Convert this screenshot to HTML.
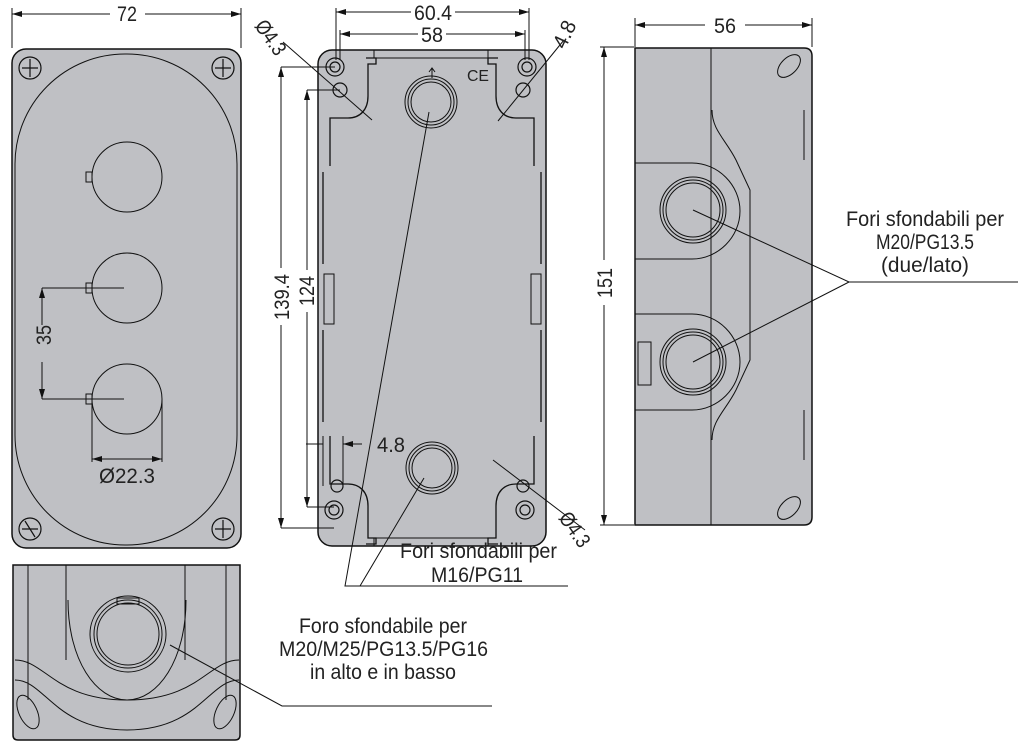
<!DOCTYPE html>
<html><head><meta charset="utf-8"><style>
html,body{margin:0;padding:0;background:#fff;}
svg{display:block;}
text{font-family:"Liberation Sans Narrow","Liberation Sans",sans-serif;fill:#222;}
</style></head><body>
<svg width="1020" height="752" viewBox="0 0 1020 752" xmlns="http://www.w3.org/2000/svg">
<defs>
<marker id="a" viewBox="0 0 10 6" refX="10" refY="3" markerWidth="10" markerHeight="6" orient="auto-start-reverse" markerUnits="userSpaceOnUse"><path d="M0,0 L10,3 L0,6 z" fill="#111"/></marker>
</defs>
<g stroke="#111" stroke-width="1" fill="none">

<!-- FRONT VIEW -->
<rect x="12" y="49" width="229" height="499" rx="14" fill="#bfc0c4" stroke-width="1.5"/>
<rect x="15" y="54" width="222" height="491" rx="110" ry="110"/>
<circle cx="127" cy="177" r="35"/>
<circle cx="127" cy="288" r="35"/>
<circle cx="127" cy="399" r="35"/>
<rect x="86" y="172" width="6" height="10"/>
<rect x="86" y="283" width="6" height="10"/>
<rect x="86" y="394" width="6" height="10"/>
<g stroke-width="1.2">
<circle cx="30" cy="68" r="11"/><path d="M30 59v18M22 68h16"/>
<circle cx="223" cy="68" r="11"/><path d="M223 59v18M215 68h16"/>
<circle cx="30" cy="529" r="11"/><path d="M25 521l10 16M22 529h16"/>
<circle cx="223" cy="529" r="11"/><path d="M223 520v18M215 529h16"/>
</g>
<path d="M12 8V48M241 8V48"/>
<path d="M12 14H110M145 14H241" marker-start="url(#a)" marker-end="url(#a)"/>
<path d="M42 288H124M42 399H124"/>
<path d="M42 288V325M42 362V399" marker-start="url(#a)" marker-end="url(#a)"/>
<path d="M92 399V462M162 399V462"/>
<path d="M92 459H162" marker-start="url(#a)" marker-end="url(#a)"/>

<!-- BACK VIEW -->
<rect x="318" y="50" width="228" height="496" rx="14" fill="#bfc0c4" stroke-width="1.5"/>
<path d="M374 50v8h114v-8"/>
<path d="M374 546v-8h114v8"/>
<g stroke-width="1.3">
<path d="M330 166V118h18c12 0 20-8 20-22V64h8v-6h-10"/>
<path d="M534 166V118h-18c-12 0-20-8-20-22V64h-8v-6h10"/>
<path d="M330 436v48h18c12 0 20 8 20 22v32h8v6h-10"/>
<path d="M534 436v48h-18c-12 0-20 8-20 22v32h-8v6h10"/>
<path d="M323 172v92M323 330v92M541 172v92M541 330v92"/>
</g>
<rect x="324" y="274" width="10" height="50"/>
<rect x="531" y="274" width="10" height="50"/>
<g stroke-width="1.2">
<circle cx="335" cy="67" r="9"/><circle cx="335" cy="67" r="5"/>
<circle cx="527" cy="67" r="9"/><circle cx="527" cy="67" r="5"/>
<circle cx="334" cy="510" r="9"/><circle cx="334" cy="510" r="5"/>
<circle cx="525" cy="510" r="9"/><circle cx="525" cy="510" r="5"/>
<circle cx="340" cy="90" r="7"/><circle cx="523" cy="90" r="7"/>
<circle cx="337" cy="486" r="6"/><circle cx="523" cy="486" r="6"/>
</g>
<circle cx="431" cy="102" r="26"/><circle cx="431" cy="102" r="23"/><circle cx="431" cy="102" r="20"/>
<circle cx="432" cy="468" r="26"/><circle cx="432" cy="468" r="23"/><circle cx="432" cy="468" r="20"/>
<path d="M432 78V68M429 72l3-4 3 4"/>
<path d="M336 8V60M529 8V60M340 30V60M525 30V60"/>
<path d="M336 12H411M455 12H529" marker-start="url(#a)" marker-end="url(#a)"/>
<path d="M340 34H418M446 34H525" marker-start="url(#a)" marker-end="url(#a)"/>
<path d="M281 67H335M281 528H334M307 90H340M307 507H334"/>
<path d="M281 67V268M281 325V528" marker-start="url(#a)" marker-end="url(#a)"/>
<path d="M307 90V270M307 312V507" marker-start="url(#a)" marker-end="url(#a)"/>
<path d="M283 42L372 120"/>
<path d="M564 40L498 121"/>
<path d="M493 460L585 530"/>
<path d="M323 436V486M343 436V486"/>
<path d="M306 444H323M362 444H343" marker-end="url(#a)"/>
<path d="M429 112L345 586L568 586M360 586L424 478"/>

<!-- SIDE VIEW -->
<path d="M635 48H804q8 0 8 8V517q0 8-8 8H635z" fill="#bfc0c4" stroke-width="1.5"/>
<path d="M711 48V525"/>
<path d="M712 110c0 20 14 30 24 50l14 30V360l-14 30c-10 20-24 30-24 50"/>
<path d="M635 163H692c26 0 48 22 48 48s-22 48-48 48H635"/>
<path d="M635 314H692c26 0 48 22 48 48s-22 48-48 48H635"/>
<circle cx="693" cy="210" r="33"/><circle cx="693" cy="210" r="30"/><circle cx="693" cy="210" r="27"/>
<circle cx="693" cy="362" r="33"/><circle cx="693" cy="362" r="30"/><circle cx="693" cy="362" r="27"/>
<rect x="638" y="342" width="13" height="43"/>
<ellipse cx="789" cy="66" rx="8" ry="14" transform="rotate(45 789 66)"/>
<ellipse cx="789" cy="508" rx="8" ry="14" transform="rotate(45 789 508)"/>
<path d="M804 110v50M804 410v50"/>
<path d="M635 18V47M812 18V47"/>
<path d="M635 25H705M745 25H812" marker-start="url(#a)" marker-end="url(#a)"/>
<path d="M600 47H634M600 525H634"/>
<path d="M604 47V260M604 305V525" marker-start="url(#a)" marker-end="url(#a)"/>
<path d="M693 210L849 282L1018 282M849 282L693 362"/>

<!-- BOTTOM VIEW -->
<path d="M13 565H240V735q0 5-5 5H18q-5 0-5-5z" fill="#bfc0c4" stroke-width="1.5"/>
<path d="M66 565V660M185 565V660"/>
<path d="M28 565V700M226 565V700"/>
<path d="M68 600c0 60 28 100 59 100s59-40 59-100"/>
<path d="M15 660c30 0 40 40 112 40s82-40 112-40"/>
<path d="M15 680c30 0 40 50 112 50s82-50 112-50"/>
<ellipse cx="28" cy="712" rx="9" ry="18" transform="rotate(-25 28 712)"/>
<ellipse cx="225" cy="712" rx="9" ry="18" transform="rotate(25 225 712)"/>
<circle cx="128" cy="634" r="38"/><circle cx="128" cy="634" r="34"/><circle cx="128" cy="634" r="31"/>
<rect x="117" y="598" width="22" height="6"/>
<path d="M170 645L282 706H492"/>
</g>

<!-- TEXT -->
<g font-size="21" lengthAdjust="spacingAndGlyphs">
<text x="117" y="21" textLength="20" lengthAdjust="spacingAndGlyphs">72</text>
<text x="414" y="20" textLength="38" lengthAdjust="spacingAndGlyphs">60.4</text>
<text x="421" y="42" textLength="22" lengthAdjust="spacingAndGlyphs">58</text>
<text x="714" y="33" textLength="22" lengthAdjust="spacingAndGlyphs">56</text>
<text transform="translate(51 335) rotate(-90)" x="-10" textLength="20" lengthAdjust="spacingAndGlyphs">35</text>
<text x="99" y="483" textLength="56" lengthAdjust="spacingAndGlyphs">Ø22.3</text>
<text transform="translate(289 297) rotate(-90)" x="-23" textLength="46" lengthAdjust="spacingAndGlyphs">139.4</text>
<text transform="translate(314 291) rotate(-90)" x="-15" textLength="30" lengthAdjust="spacingAndGlyphs">124</text>
<text transform="translate(612 283) rotate(-90)" x="-15" textLength="30" lengthAdjust="spacingAndGlyphs">151</text>
<text transform="translate(254 26) rotate(55)" textLength="38" lengthAdjust="spacingAndGlyphs">Ø4.3</text>
<text transform="translate(565 50) rotate(-65)" textLength="28" lengthAdjust="spacingAndGlyphs">4.8</text>
<text transform="translate(558 518) rotate(55)" textLength="38" lengthAdjust="spacingAndGlyphs">Ø4.3</text>
<text x="377" y="452" textLength="28" lengthAdjust="spacingAndGlyphs">4.8</text>
<text x="400" y="558" textLength="157" lengthAdjust="spacingAndGlyphs">Fori sfondabili per</text>
<text x="431" y="582" textLength="92" lengthAdjust="spacingAndGlyphs">M16/PG11</text>
<text x="846" y="226" textLength="158" lengthAdjust="spacingAndGlyphs">Fori sfondabili per</text>
<text x="876" y="249" textLength="98" lengthAdjust="spacingAndGlyphs">M20/PG13.5</text>
<text x="881" y="272" textLength="88" lengthAdjust="spacingAndGlyphs">(due/lato)</text>
<text x="299" y="633" textLength="168" lengthAdjust="spacingAndGlyphs">Foro sfondabile per</text>
<text x="279" y="656" textLength="209" lengthAdjust="spacingAndGlyphs">M20/M25/PG13.5/PG16</text>
<text x="310" y="679" textLength="146" lengthAdjust="spacingAndGlyphs">in alto e in basso</text>
</g>
<text x="467" y="81" font-size="16" textLength="22" lengthAdjust="spacingAndGlyphs">CE</text>
</svg>
</body></html>
